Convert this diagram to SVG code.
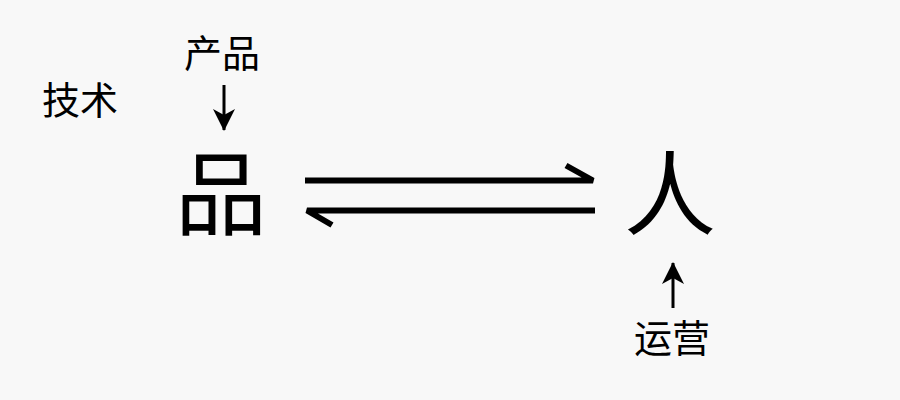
<svg xmlns="http://www.w3.org/2000/svg" width="900" height="400" viewBox="0 0 900 400">
<style>
text{font-family:"Noto Sans CJK SC","Noto Sans",sans-serif;fill:#000;text-anchor:middle}
.big{font-size:92px}
.lbl{font-size:38px}
.c{stroke:#000;fill:none}
</style>
<defs>
<marker id="ah" viewBox="0 0 22 22" refX="21" refY="11" markerWidth="22" markerHeight="22" markerUnits="userSpaceOnUse" orient="auto">
<path d="M0,0 L22,11 L0,22 L6,11 Z" fill="#000"/>
</marker>
</defs>
<rect width="900" height="400" fill="#f8f8f8"/>
<g id="node-tech"><text class="lbl" x="80" y="114">技术</text></g>
<g id="node-product-label"><text class="lbl" x="222" y="67">产品</text></g>
<g id="node-pin"><text class="big" x="221" y="228">品</text></g>
<g id="node-ren"><text class="big" x="670" y="228">人</text></g>
<g id="node-ops"><text class="lbl" x="672" y="352">运营</text></g>
<g id="connectors">
<path class="c" d="M224,85 V130" stroke-width="3" marker-end="url(#ah)"/>
<path class="c" d="M673,308 V263" stroke-width="3" marker-end="url(#ah)"/>
<path class="c" d="M305,180.5 H593 L566,165.5" stroke-width="6" stroke-linejoin="bevel"/>
<path class="c" d="M595,210.5 H307 L332,225" stroke-width="6" stroke-linejoin="bevel"/>
</g>
</svg>
